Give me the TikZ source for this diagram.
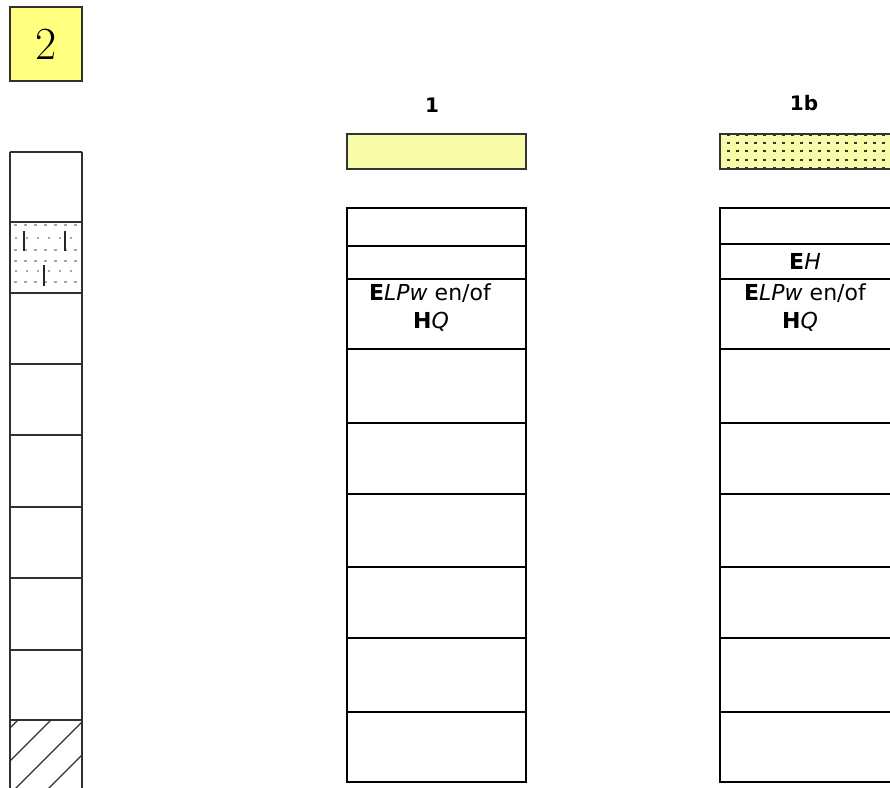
\documentclass[tikz,border=0pt]{standalone}
\usepackage{fontspec}
\newfontfamily\vfont{DejaVu Sans}
\definecolor{boxyellow}{HTML}{FFFF80}
\definecolor{baryellow}{HTML}{F8FBA8}
\definecolor{linegrey}{HTML}{303030}
\begin{document}
\begin{tikzpicture}[x=1pt,y=-1pt,
  colline/.style={draw=black,line width=1.4pt},
  stripline/.style={draw=linegrey,line width=1.2pt},
  lbl/.style={font=\vfont\fontsize{22}{26}\selectfont,anchor=base,inner sep=0pt},
  ttl/.style={font=\vfont\bfseries\fontsize{20}{24}\selectfont,anchor=base,inner sep=0pt},
  dotdash/.style={draw=black!80,line width=2pt},
  greydash/.style={draw=black!35,line width=1.2pt}]
\useasboundingbox (0,0) rectangle (890,787);
\clip (0,0) rectangle (890,787);
\fill[white] (0,0) rectangle (890,787);

% ---- box 2 ----
\node[draw=linegrey,line width=1.4pt,fill=boxyellow,minimum width=72pt,minimum height=74pt,inner sep=0pt,
  font=\fontsize{46}{46}\selectfont] (b2) at (46,44) {2};

% ---- left strip ----
\begin{scope}
\clip (10,222) rectangle (82,293);
\foreach \yy in {225,250,261,282}
  \foreach \xx in {14,24,...,84} \draw[greydash] (\xx,\yy) -- ++(3,0);
\foreach \yy in {238,271}
  \foreach \xx in {15,26,...,84} \draw[greydash] (\xx,\yy) -- ++(1.8,0);
\end{scope}
\draw[line width=1.6pt,black!85] (24,231) -- (24,251);
\draw[line width=1.6pt,black!85] (65,231) -- (65,251);
\draw[line width=1.6pt,black!85] (44,265) -- (44,286);
\begin{scope}
\clip (10,720) rectangle (82,800);
\foreach \s in {738,771,804,837}
  \draw[linegrey,line width=1.1pt] (\s-720,720) -- (\s-800,800);
\end{scope}
\draw[stripline] (10,152) -- (10,790) (82,152) -- (82,790);
\foreach \yy in {152,222,293,364,435,507,578,650,720}
  \draw[stripline] (10,\yy) -- (82,\yy);

% ---- column 1 ----
\node[ttl] (t1) at (432,112) {1};
\node[draw=black!80,line width=1.1pt,fill=baryellow,minimum width=179pt,minimum height=35pt,inner sep=0pt] (bar1) at (436.5,151.5) {};
\draw[colline] (347,208) rectangle (526,782);
\foreach \yy in {246,279,349,423,494,567,638,712}
  \draw[colline] (347,\yy) -- (526,\yy);
\node[lbl] (c1a) at (430,300) {\textbf{E}\textit{LPw} en/of};
\node[lbl] (c1b) at (431,328) {\textbf{H}\textit{Q}};

% ---- column 1b ----
\node[ttl] (t1b) at (804,110) {1b};
\node[draw=black!80,line width=1.1pt,fill=baryellow,minimum width=179pt,minimum height=35pt,inner sep=0pt] (bar1b) at (809.5,151.5) {};
\begin{scope}
\clip (721,135) rectangle (898,168);
\foreach \yy in {135,142.5,151,159.5,167.5}
  \foreach \xx in {727,736.1,...,900} \draw[dotdash] (\xx,\yy) -- ++(3,0);
\end{scope}
\draw[colline] (720,208) rectangle (899,782);
\foreach \yy in {244,279,349,423,494,567,638,712}
  \draw[colline] (720,\yy) -- (899,\yy);
\node[lbl] (c2h) at (805,269) {\textbf{E}\textit{H}};
\node[lbl] (c2a) at (805,300) {\textbf{E}\textit{LPw} en/of};
\node[lbl] (c2b) at (800,328) {\textbf{H}\textit{Q}};
\end{tikzpicture}
\end{document}
